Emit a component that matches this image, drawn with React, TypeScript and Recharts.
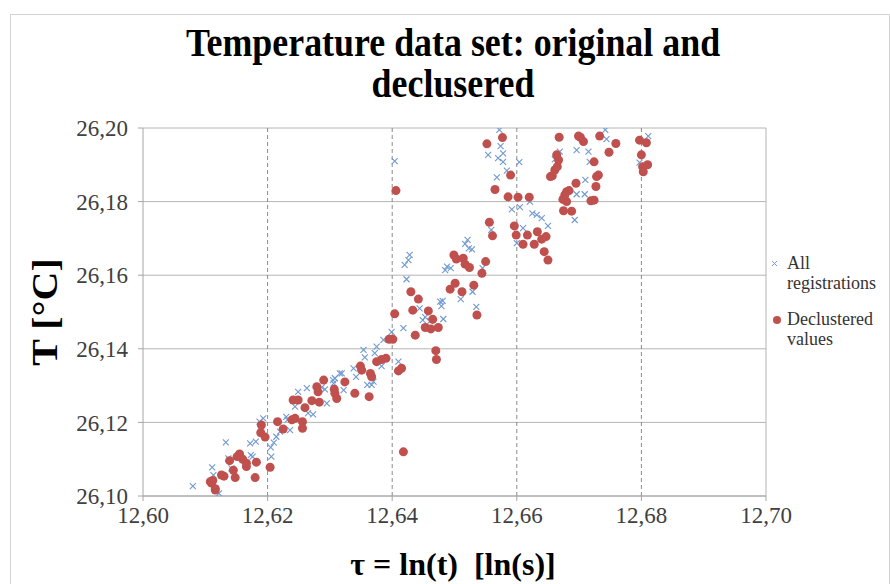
import { ScatterChart, Scatter, XAxis, YAxis, CartesianGrid, ReferenceLine } from "recharts";

// axis ticks
const tauTicks = [12.6, 12.62, 12.64, 12.66, 12.68, 12.7];
const tempTicks = [26.1, 26.12, 26.14, 26.16, 26.18, 26.2];
const dashedTau = [12.62, 12.64, 12.66, 12.68];

// all registrations (blue crosses)
const allTau = [
  12.608, 12.6122, 12.6111, 12.6113, 12.6133, 12.6137, 12.6142, 12.6172, 12.6173, 12.6176,
  12.6181, 12.6187, 12.6193, 12.6205, 12.6206, 12.621, 12.6214, 12.622, 12.6232, 12.6236,
  12.6244, 12.6249, 12.6263, 12.6265, 12.6273, 12.6292, 12.6295, 12.6306, 12.6308, 12.6319,
  12.6322, 12.6316, 12.6338, 12.6342, 12.6354, 12.6356, 12.636, 12.6367, 12.637, 12.6375,
  12.6372, 12.6383, 12.6386, 12.6399, 12.641, 12.6418, 12.6423, 12.642, 12.6426, 12.6428,
  12.6404, 12.6444, 12.6449, 12.6453, 12.6461, 12.6477, 12.6481, 12.6479, 12.6482, 12.6485,
  12.6488, 12.6494, 12.651, 12.6517, 12.6523, 12.6528, 12.6521, 12.6529, 12.6535, 12.6545,
  12.6572, 12.6574, 12.6578, 12.6554, 12.657, 12.6578, 12.6584, 12.6568, 12.6604, 12.6592,
  12.6605, 12.6621, 12.6625, 12.6632, 12.664, 12.665, 12.661, 12.66, 12.6559, 12.6669,
  12.6661, 12.6696, 12.6715, 12.6717, 12.671, 12.6696, 12.6693, 12.6709, 12.6742, 12.6744,
  12.6811, 12.6797, 12.623, 12.6287, 12.6305,
];
const allTemp = [
  26.1027, 26.1007, 26.1078, 26.1057, 26.1146, 26.1102, 26.1075, 26.1143, 26.1111, 26.1107,
  26.1148, 26.1202, 26.1211, 26.1132, 26.1107, 26.1145, 26.1161, 26.1175, 26.1207, 26.1179,
  26.1243, 26.1283, 26.1293, 26.1225, 26.1222, 26.129, 26.1252, 26.1306, 26.132, 26.1333,
  26.1288, 26.1333, 26.1347, 26.1324, 26.1397, 26.1377, 26.1302, 26.1302, 26.1311, 26.1406,
  26.1388, 26.1353, 26.1424, 26.1446, 26.1365, 26.1456, 26.1589, 26.1628, 26.1641, 26.1655,
  26.191, 26.151, 26.1478, 26.1486, 26.1475, 26.1528, 26.153, 26.1516, 26.1481, 26.1614,
  26.1623, 26.1619, 26.1535, 26.1685, 26.1673, 26.167, 26.1696, 26.1555, 26.1514, 26.1619,
  26.1995, 26.1951, 26.1931, 26.1927, 26.1918, 26.1908, 26.1884, 26.1866, 26.1907, 26.1779,
  26.1785, 26.18, 26.1768, 26.1764, 26.1755, 26.1734, 26.1728, 26.1687, 26.1723, 26.1936,
  26.1915, 26.194, 26.1936, 26.1908, 26.1859, 26.182, 26.175, 26.182, 26.1995, 26.197,
  26.1978, 26.1906, 26.1215, 26.1295, 26.1315,
];

// declustered values (red dots)
const declTau = [
  12.611, 12.6116, 12.6112, 12.6108, 12.6116, 12.6126, 12.613, 12.6148, 12.6139, 12.6151,
  12.6155, 12.616, 12.6166, 12.6166, 12.6182, 12.618, 12.6145, 12.619, 12.6189, 12.6196,
  12.6204, 12.6216, 12.6225, 12.6239, 12.6244, 12.6256, 12.6256, 12.6241, 12.6249, 12.626,
  12.6271, 12.6283, 12.6279, 12.6281, 12.629, 12.6308, 12.6311, 12.6324, 12.6349, 12.6351,
  12.6365, 12.6367, 12.6363, 12.634, 12.6375, 12.6383, 12.639, 12.6395, 12.6401, 12.6404,
  12.641, 12.6415, 12.6418, 12.6406, 12.643, 12.6442, 12.6433, 12.6437, 12.6453, 12.6458,
  12.6465, 12.6462, 12.6474, 12.647, 12.6471, 12.6493, 12.6501, 12.6512, 12.6499, 12.6503,
  12.6514, 12.6517, 12.6524, 12.6531, 12.6544, 12.655, 12.6536, 12.6552, 12.6577, 12.6565,
  12.659, 12.6586, 12.6602, 12.662, 12.6556, 12.6561, 12.6596, 12.6599, 12.661, 12.6617,
  12.6628, 12.6633, 12.664, 12.6647, 12.6644, 12.665, 12.6657, 12.6661, 12.6664, 12.6668,
  12.6667, 12.6665, 12.6654, 12.6699, 12.6702, 12.6707, 12.6695, 12.668, 12.6677, 12.6684,
  12.6674, 12.668, 12.6675, 12.6688, 12.6724, 12.6728, 12.6727, 12.6724, 12.6733, 12.6759,
  12.6748, 12.6731, 12.6719, 12.6797, 12.6808, 12.68, 12.6802, 12.681, 12.6803, 12.6307,
];
const declTemp = [
  26.1035, 26.102, 26.1042, 26.1039, 26.1016, 26.1057, 26.1054, 26.105, 26.1096, 26.1107,
  26.1114, 26.11, 26.1089, 26.108, 26.1092, 26.105, 26.107, 26.1193, 26.1172, 26.116,
  26.1078, 26.1202, 26.1182, 26.1207, 26.1211, 26.1202, 26.1184, 26.1261, 26.1261, 26.124,
  26.1259, 26.1255, 26.1297, 26.1283, 26.1315, 26.1279, 26.1265, 26.131, 26.1353, 26.1342,
  26.1333, 26.1324, 26.127, 26.1279, 26.1365, 26.1371, 26.1374, 26.1426, 26.1426, 26.1495,
  26.134, 26.1347, 26.112, 26.183, 26.1555, 26.1535, 26.1505, 26.1437, 26.1458, 26.1503,
  26.148, 26.1454, 26.1458, 26.1395, 26.1371, 26.1562, 26.1578, 26.1555, 26.1655, 26.1644,
  26.1646, 26.163, 26.1621, 26.1573, 26.1605, 26.1637, 26.1492, 26.1957, 26.1974, 26.1833,
  26.1872, 26.1813, 26.1812, 26.1812, 26.1744, 26.1707, 26.1734, 26.1709, 26.1684, 26.1709,
  26.1684, 26.1718, 26.1698, 26.1705, 26.1664, 26.1641, 26.187, 26.1886, 26.1927, 26.1975,
  26.1913, 26.1895, 26.1868, 26.1978, 26.1975, 26.1963, 26.185, 26.1827, 26.1818, 26.183,
  26.1806, 26.18, 26.1775, 26.1774, 26.1908, 26.1868, 26.1841, 26.1804, 26.1978, 26.1958,
  26.1934, 26.1872, 26.1802, 26.1967, 26.196, 26.1927, 26.1895, 26.19, 26.1881, 26.129,
];

const allData = allTau.map((tau, i) => ({ tau, T: allTemp[i] }));
const declData = declTau.map((tau, i) => ({ tau, T: declTemp[i] }));

const BLUE = "#6f99d0";
const RED = "#c0504d";
const SERIF = "'Liberation Serif', 'Times New Roman', serif";

const fmt = (v: number) => v.toFixed(2).replace(".", ",");

const Cross = (props: any) => {
  const { cx, cy } = props;
  const s = 3;
  return (
    <path
      d={`M${cx - s},${cy - s}L${cx + s},${cy + s}M${cx - s},${cy + s}L${cx + s},${cy - s}`}
      stroke={BLUE}
      strokeWidth={1.1}
      fill="none"
    />
  );
};

const Dot = (props: any) => <circle cx={props.cx} cy={props.cy} r={4.5} fill={RED} />;

export default function App() {
  const tickStyle = { fill: "#404040", fontSize: 23, fontFamily: SERIF };
  return (
    <div style={{ position: "absolute", left: 0, top: 0, width: 890, height: 584, background: "#fff", overflow: "hidden" }}>
      <div style={{ position: "absolute", left: 10, top: 14, width: 878, height: 580, border: "1px solid #d4d4d4" }} />

      {/* titolo (il font del riferimento è stretto, da qui lo scaleX) */}
      <div
        style={{
          position: "absolute", left: 8, top: 22, width: 890, textAlign: "center",
          fontFamily: SERIF, fontWeight: "bold", fontSize: 39, lineHeight: "41px", color: "#000",
          transform: "scaleX(0.92)",
        }}
      >
        <div>Temperature data set: original and</div>
        <div>declusered</div>
      </div>

      <div style={{ position: "absolute", left: 0, top: 0 }}>
        <ScatterChart width={890} height={584} margin={{ top: 128, right: 124, bottom: 58, left: 0 }}>
          <CartesianGrid vertical={false} stroke="#b4b4b4" strokeWidth={1} />
          {dashedTau.map((v) => (
            <ReferenceLine key={v} x={v} stroke="#8a8a8a" strokeDasharray="4 3" />
          ))}
          <ReferenceLine x={12.7} stroke="#b4b4b4" />
          <XAxis
            type="number"
            dataKey="tau"
            domain={[12.6, 12.7]}
            ticks={tauTicks}
            tickFormatter={fmt}
            height={30}
            tickSize={5}
            tickMargin={6}
            stroke="#a6a6a6"
            tick={tickStyle}
            allowDataOverflow
          />
          <YAxis
            type="number"
            dataKey="T"
            domain={[26.1, 26.2]}
            ticks={tempTicks}
            tickFormatter={fmt}
            width={143}
            tickSize={5}
            tickMargin={10}
            stroke="#a6a6a6"
            tick={tickStyle}
            allowDataOverflow
          />
          <Scatter data={allData} shape={Cross} isAnimationActive={false} />
          <Scatter data={declData} shape={Dot} isAnimationActive={false} />
        </ScatterChart>
      </div>

      {/* etichette assi */}
      <div
        style={{
          position: "absolute", left: -55, top: 290, width: 200, height: 44, lineHeight: "44px",
          textAlign: "center", transform: "rotate(-90deg) scaleY(0.9)", fontFamily: SERIF, fontWeight: "bold", fontSize: 40,
        }}
      >
        T [°C]
      </div>
      <div
        style={{
          position: "absolute", left: 253, top: 545, width: 400, textAlign: "center", whiteSpace: "pre",
          fontFamily: SERIF, fontWeight: "bold", fontSize: 32, lineHeight: "38px",
        }}
      >
        {"τ = ln(t)  [ln(s)]"}
      </div>

      {/* legenda */}
      <div style={{ position: "absolute", left: 770, top: 253, fontFamily: SERIF, fontSize: 18, lineHeight: "20px", color: "#333" }}>
        <div style={{ position: "relative", paddingLeft: 17 }}>
          <svg width={10} height={10} style={{ position: "absolute", left: 0, top: 6 }}>
            <path d="M2,2L7,7M2,7L7,2" stroke={BLUE} strokeWidth={1} />
          </svg>
          All
          <br />
          registrations
        </div>
        <div style={{ position: "relative", paddingLeft: 17, marginTop: 16 }}>
          <svg width={12} height={12} style={{ position: "absolute", left: 2, top: 5 }}>
            <circle cx={5} cy={6} r={4} fill={RED} />
          </svg>
          Declustered
          <br />
          values
        </div>
      </div>
    </div>
  );
}
